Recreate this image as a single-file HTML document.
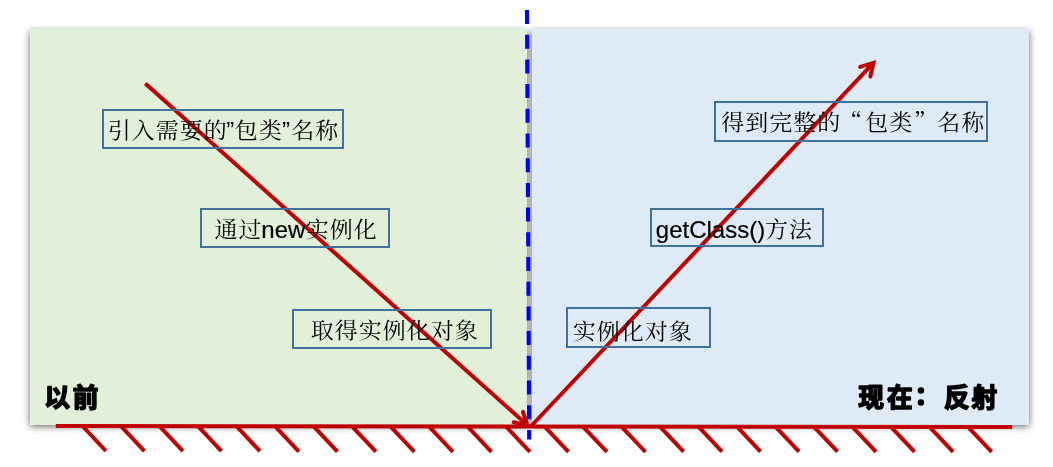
<!DOCTYPE html>
<html lang="zh-CN">
<head>
<meta charset="utf-8">
<title>反射：以前 / 现在</title>
<style>
  html, body { margin: 0; padding: 0; background: #ffffff; }
  body { width: 1053px; height: 467px; position: relative; overflow: hidden;
         font-family: "Liberation Sans", "Noto Serif CJK SC", sans-serif; }

  /* two background panels; shadows are painted first so they never darken the neighbour */
  .panel, .shade { position: absolute; top: 29px; height: 396px; width: 497px; }
  .shade { box-shadow: 0 2.2px 7px rgba(0,0,0,0.6); }
  .before { left: 30px; }
  .now { left: 532px; }
  .panel.before { background: #e2f0d9; }
  .panel.now { background: #deebf7; }

  /* line art + captions */
  svg { position: absolute; left: 0; top: 0; will-change: transform; }
  .red { stroke: #c00000; fill: none; }
  .label { font-family: "Noto Sans CJK SC", "Liberation Sans", sans-serif; font-weight: 700; font-size: 25.7px;
           fill: #000; stroke: #000; stroke-width: 1.6; stroke-linejoin: round; }

  /* outlined text boxes (drawn above the rays) */
  .tb { position: absolute; border: 2px solid #41719c; color: #000; will-change: transform; }
  .tb span { position: absolute; line-height: 1; white-space: nowrap; }
  .cjk { font-family: "Noto Serif CJK SC", "Liberation Serif", serif; font-weight: 400; font-size: 23px;
         letter-spacing: 1px; transform-origin: 0 21px; }
  .cjk i { font-style: normal; position: relative; }
  .cjk .oq { left: -2.2px; }
  .cjk .cq { left: 0.8px; }
  .lat { font-family: "Liberation Sans", sans-serif; font-weight: 400; font-size: 24px;
         -webkit-text-stroke: 0.2px #000; }
  .lat.q { -webkit-text-stroke: 0; }
</style>
</head>
<body>
  <div class="shade before"></div>
  <div class="shade now"></div>
  <div class="panel before"></div>
  <div class="panel now"></div>

  <svg width="1053" height="467" viewBox="0 0 1053 467">
    <!-- dashed divider between the two halves -->
    <line x1="527" y1="10" x2="529.23" y2="439.5" stroke="#0000ff" stroke-width="4.1" stroke-dasharray="14 10.7"/>

    <!-- incident ray and reflected ray -->
    <g class="red" stroke-width="4">
      <line x1="145.3" y1="83.4" x2="527.24" y2="425.10"/>
      <polyline points="513.63,422.32 527.24,425.10 522.96,411.88" stroke-linecap="round" stroke-linejoin="miter" stroke-miterlimit="10"/>
      <line x1="530.3" y1="427" x2="873.50" y2="62.90"/>
      <polyline points="870.36,76.43 873.50,62.90 860.18,66.83" stroke-linecap="round" stroke-linejoin="miter" stroke-miterlimit="10"/>
    </g>

    <!-- mirror surface with hatching -->
    <g class="red" stroke-width="4">
      <line x1="82.50" y1="426.00" x2="105.90" y2="451.00"/>
      <line x1="121.00" y1="426.04" x2="144.41" y2="451.04"/>
      <line x1="159.50" y1="426.08" x2="182.92" y2="451.08"/>
      <line x1="198.00" y1="426.12" x2="221.43" y2="451.12"/>
      <line x1="236.50" y1="426.16" x2="259.94" y2="451.16"/>
      <line x1="275.00" y1="426.20" x2="298.90" y2="451.64"/>
      <line x1="313.50" y1="426.24" x2="337.40" y2="451.68"/>
      <line x1="352.00" y1="426.28" x2="375.91" y2="451.72"/>
      <line x1="390.50" y1="426.32" x2="414.42" y2="451.76"/>
      <line x1="429.00" y1="426.36" x2="452.93" y2="451.80"/>
      <line x1="467.50" y1="426.40" x2="491.44" y2="451.84"/>
      <line x1="506.00" y1="426.44" x2="529.95" y2="451.88"/>
      <line x1="544.50" y1="426.48" x2="568.46" y2="451.92"/>
      <line x1="583.00" y1="426.52" x2="606.97" y2="451.96"/>
      <line x1="621.50" y1="426.56" x2="645.48" y2="452.00"/>
      <line x1="660.00" y1="426.60" x2="683.53" y2="451.58"/>
      <line x1="698.50" y1="426.64" x2="722.04" y2="451.62"/>
      <line x1="737.00" y1="426.68" x2="760.55" y2="451.66"/>
      <line x1="775.50" y1="426.72" x2="799.06" y2="451.70"/>
      <line x1="814.00" y1="426.76" x2="837.57" y2="451.74"/>
      <line x1="852.50" y1="426.80" x2="876.08" y2="451.78"/>
      <line x1="891.00" y1="426.84" x2="914.59" y2="451.82"/>
      <line x1="929.50" y1="426.88" x2="953.10" y2="451.86"/>
      <line x1="968.00" y1="426.92" x2="991.61" y2="451.90"/>
    </g>
    <line class="red" x1="55.8" y1="426" x2="1012.1" y2="427" stroke-width="4.1"/>

    <!-- captions -->
    <text class="label" x="44.3 72.65" y="406.6">以前</text>
    <text class="label" x="858.35 887.1 914.45 944.05 971.6" y="406.6 406.6 405.3 406.6 406.6">现在：反射</text>
  </svg>

  <div class="tb" style="left:102px;top:109px;width:238px;height:36px;"><span class="cjk" style="left:3px;top:6px;transform:translate(0.7px,0.3px) scaleY(0.92)">引入需要的</span><span class="lat q" style="left:122px;top:7px;transform:translate(0.3px,0.8px)">”</span><span class="cjk" style="left:130px;top:6px;transform:translate(0.7px,0.3px) scaleY(0.92)">包类</span><span class="lat q" style="left:178px;top:7px;transform:translate(0.1px,0.8px)">”</span><span class="cjk" style="left:187px;top:6px;transform:translate(0.3px,0.3px) scaleY(0.92)">名称</span></div>
  <div class="tb" style="left:200px;top:208px;width:186px;height:36px;"><span class="cjk" style="left:12px;top:6px;transform:translate(0.5px,0.1px) scaleY(0.92)">通过</span><span class="lat" style="left:59px;top:7px;transform:translate(0.3px,0.9px)">new</span><span class="cjk" style="left:103px;top:6px;transform:translate(0.85px,0.1px) scaleY(0.92)">实例化</span></div>
  <div class="tb" style="left:292px;top:309px;width:196px;height:36px;"><span class="cjk" style="left:16px;top:6px;transform:translate(0.7px,0.1px) scaleY(0.92)">取得实例化对象</span></div>
  <div class="tb" style="left:714px;top:101px;width:270px;height:37px;"><span class="cjk" style="left:5px;top:6px;transform:translate(0.15px,0.1px) scaleY(0.92)">得到完整的<i class="oq">“</i>包类<i class="cq">”</i>名称</span></div>
  <div class="tb" style="left:650px;top:208px;width:170px;height:35px;"><span class="lat" style="left:3px;top:7px;transform:translate(0.8px,0.9px)">getClass()</span><span class="cjk" style="left:112px;top:6px;transform:translate(0.9px,0.1px) scaleY(0.92)">方法</span></div>
  <div class="tb" style="left:566px;top:307px;width:141px;height:37px;"><span class="cjk" style="left:4px;top:9px;transform:translate(0.7px,0.1px) scaleY(0.92)">实例化对象</span></div>
</body>
</html>
